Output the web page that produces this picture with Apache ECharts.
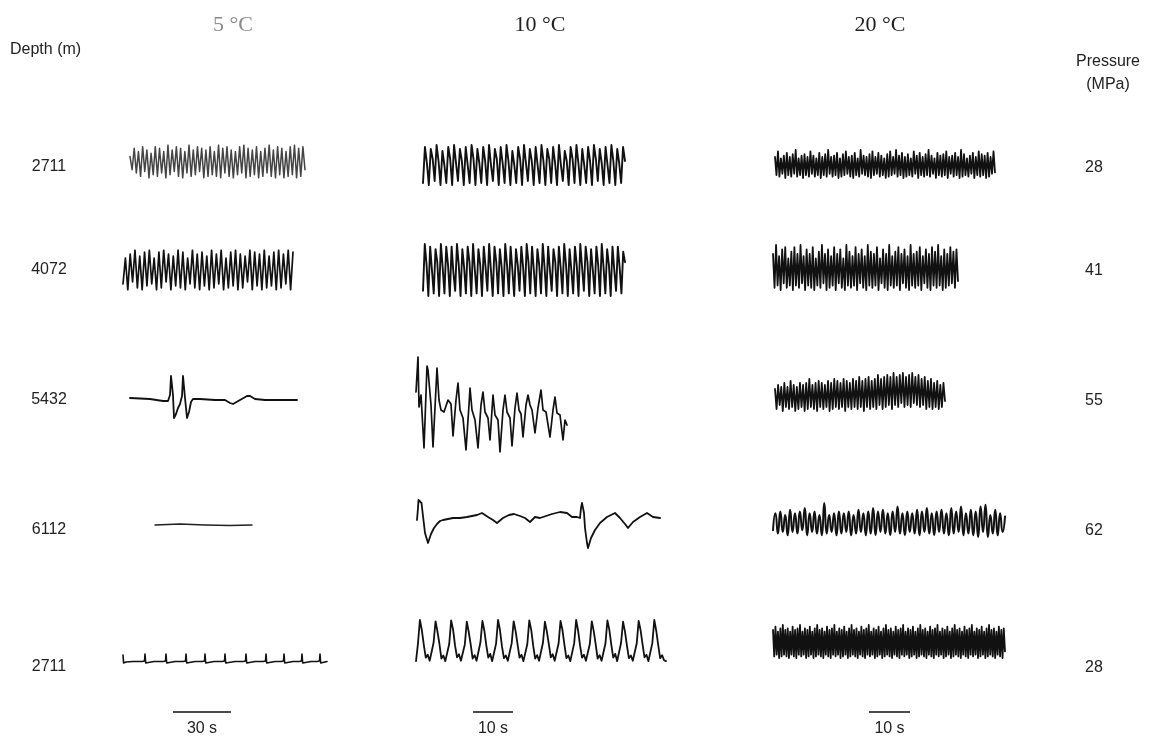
<!DOCTYPE html>
<html>
<head>
<meta charset="utf-8">
<script src="https://cdn.jsdelivr.net/npm/echarts@6/dist/echarts.min.js"></script>
<style>
html,body{margin:0;padding:0;background:#fff;}
#chart{width:1149px;height:756px;}
</style>
</head>
<body>
<div id="chart"></div>
<script>
// ---------- text ----------
const tempLabels = ['5 °C', '10 °C', '20 °C'];
const depthLabels = ['2711', '4072', '5432', '6112', '2711'];
const pressureLabels = ['28', '41', '55', '62', '28'];
const scaleBarSeconds = [30, 10, 10];
const scaleBarLabels = ['30 s', '10 s', '10 s'];

// ---------- traces (relative amplitude, evenly sampled) ----------
const c5_2711 = [0.3,-0.5,0.8,-0.7,0.6,-0.9,0.9,-0.6,0.7,-1.0,0.5,-0.8,0.9,-0.9,0.8,-0.7,0.6,-1.0,1.0,-0.8,0.7,-0.6,0.9,-0.9,0.8,-1.0,0.6,-0.7,1.0,-0.9,0.7,-0.8,0.9,-0.6,0.8,-1.0,0.7,-0.9,0.9,-0.8,0.6,-0.9,1.0,-1.0,0.8,-0.7,0.9,-0.9,0.7,-1.0,0.6,-0.8,0.9,-0.7,1.0,-1.0,0.8,-0.9,0.7,-0.8,0.9,-1.0,0.6,-0.9,0.8,-0.7,1.0,-0.9,0.7,-1.0,0.9,-0.8,0.8,-1.0,0.6,-0.9,0.9,-0.8,1.0,-1.0,0.8,-0.9,0.9,-0.5];
const c5_4072 = [-0.7,0.6,-1.0,0.8,-0.6,1.0,-0.9,0.7,-1.0,0.9,-0.8,1.0,-0.7,0.6,-1.0,0.9,-0.9,1.0,-0.6,0.8,-1.0,0.7,-0.8,1.0,-0.9,0.9,-1.0,0.6,-0.7,1.0,-0.9,0.8,-1.0,0.9,-0.8,0.7,-1.0,1.0,-0.9,0.8,-0.7,1.0,-1.0,0.6,-0.9,0.9,-0.8,1.0,-1.0,0.8,-0.9,0.7,-0.6,1.0,-1.0,0.9,-0.8,0.8,-1.0,1.0,-0.9,0.7,-0.8,0.9,-1.0,1.0,-0.9,0.8,-0.7,1.0,-1.0,0.9];
const c10_2711 = [-0.9,0.9,0.1,-1.0,0.8,0.3,-0.8,1.0,0.2,-1.0,0.7,0.0,-0.9,0.9,0.3,-1.0,1.0,0.1,-0.8,0.8,0.2,-1.0,0.9,0.0,-0.9,1.0,0.3,-1.0,0.8,0.1,-0.9,0.9,0.2,-1.0,1.0,0.0,-0.8,0.8,0.3,-1.0,0.9,0.1,-0.9,1.0,0.2,-1.0,0.7,0.0,-0.9,0.9,0.3,-1.0,1.0,0.1,-0.8,0.8,0.2,-1.0,0.9,0.0,-0.9,1.0,0.2,-1.0,0.8,0.3,-0.9,0.9,0.1,-1.0,1.0,0.0,-0.8,0.7,0.2,-1.0,0.9,0.3,-0.9,1.0,0.1,-1.0,0.8,0.0,-0.9,0.9,0.2,-1.0,1.0,0.3,-0.8,0.8,0.1,-1.0,0.9,0.0,-0.9,1.0,0.2,-1.0,0.8,0.1,-0.9,0.9,0.2];
const c10_4072 = [-0.8,1.0,0.2,-1.0,0.9,0.0,-0.9,0.8,0.3,-1.0,1.0,0.1,-0.9,0.9,0.2,-1.0,0.9,-0.1,-0.8,1.0,0.2,-1.0,0.8,0.1,-0.9,0.9,0.3,-1.0,1.0,0.0,-0.9,0.8,0.2,-1.0,0.9,0.1,-0.8,1.0,0.0,-1.0,0.9,0.3,-0.9,0.8,0.1,-1.0,1.0,0.2,-0.9,0.9,0.0,-1.0,0.8,0.2,-0.8,0.9,0.1,-1.0,1.0,0.3,-0.9,0.9,0.0,-1.0,0.8,0.2,-0.9,1.0,0.1,-1.0,0.9,0.0,-0.8,0.8,0.3,-1.0,0.9,0.1,-0.9,1.0,0.2,-1.0,0.8,0.0,-0.9,0.9,0.2,-1.0,1.0,0.1,-0.8,0.9,0.3,-1.0,0.8,0.0,-0.9,0.9,0.2,-1.0,1.0,0.1,-0.9,0.8,0.2,-1.0,0.9,0.0,-0.8,0.9,0.1,-0.9,0.7,0.3];
const c10_2711b = [0.04,0.45,1.0,0.76,0.42,0.12,0.19,0.05, 0.05,0.47,0.97,0.73,0.44,0.1,0.17,0.04, 0.04,0.44,0.99,0.77,0.4,0.13,0.2,0.05, 0.03,0.43,0.96,0.72,0.43,0.1,0.18,0.05, 0.05,0.48,0.98,0.75,0.41,0.12,0.21,0.04, 0.06,0.45,1.0,0.76,0.39,0.11,0.17,0.05, 0.04,0.46,0.97,0.74,0.43,0.12,0.19,0.04, 0.03,0.44,0.99,0.77,0.4,0.1,0.18,0.05, 0.05,0.47,0.96,0.73,0.44,0.13,0.2,0.05, 0.06,0.45,0.98,0.76,0.42,0.11,0.17,0.04, 0.04,0.46,1.0,0.75,0.4,0.12,0.19,0.05, 0.03,0.44,0.97,0.74,0.43,0.1,0.18,0.05, 0.05,0.45,0.99,0.77,0.42,0.12,0.21,0.04, 0.06,0.47,0.96,0.73,0.4,0.11,0.17,0.05, 0.04,0.45,0.98,0.76,0.43,0.13,0.19,0.04, 0.03,0.46,1.0,0.75,0.42,0.11,0.18,0.06, 0.04];
const c20_2711 = [0.5,-0.8,0.9,-0.9,0.4,-0.7,0.6,-1.0,0.8,-0.8,0.5,-0.9,0.7,-0.7,1.0,-0.9,0.4,-0.8,0.6,-1.0,0.7,-0.8,0.5,-0.9,0.9,-0.7,0.6,-0.9,0.4,-0.8,0.8,-1.0,0.5,-0.8,0.7,-0.9,1.0,-0.7,0.5,-0.9,0.6,-0.8,0.8,-1.0,0.4,-0.9,0.7,-0.8,0.9,-0.7,0.5,-0.9,0.6,-1.0,0.8,-0.8,0.4,-0.9,1.0,-0.7,0.6,-0.8,0.5,-0.9,0.7,-1.0,0.9,-0.8,0.5,-0.7,0.8,-0.9,0.6,-0.8,0.4,-1.0,0.7,-0.9,0.9,-0.8,0.5,-0.7,1.0,-0.9,0.6,-0.8,0.8,-1.0,0.5,-0.9,0.7,-0.8,0.4,-0.9,0.9,-0.7,0.6,-1.0,0.8,-0.8,0.5,-0.9,0.7,-0.8,1.0,-0.9,0.6,-0.7,0.4,-1.0,0.8,-0.8,0.6,-0.9,0.7,-0.8,0.9,-1.0,0.5,-0.7,0.6,-0.9,0.8,-0.8,0.5,-1.0,1.0,-0.9,0.7,-0.8,0.4,-0.9,0.6,-0.7,0.8,-1.0,0.5,-0.8,0.9,-0.9,0.7,-0.8,0.6,-1.0,0.8,-0.9,0.5,-0.7,0.9,-0.6];
const c20_4072 = [0.6,-0.9,1.0,-0.8,0.5,-1.0,0.8,-0.7,0.9,-0.9,0.4,-0.8,0.7,-1.0,0.9,-0.8,0.6,-0.9,1.0,-0.7,0.5,-1.0,0.8,-0.8,0.6,-0.9,0.9,-1.0,0.4,-0.8,0.7,-0.9,1.0,-0.7,0.6,-1.0,0.8,-0.9,0.5,-0.8,0.9,-1.0,0.6,-0.7,0.8,-0.9,0.4,-1.0,1.0,-0.8,0.7,-0.9,0.5,-0.8,0.9,-1.0,0.6,-0.7,0.8,-0.9,0.5,-1.0,1.0,-0.8,0.7,-0.9,0.6,-0.8,0.9,-1.0,0.4,-0.7,0.8,-0.9,0.6,-1.0,1.0,-0.8,0.5,-0.9,0.7,-0.8,0.9,-1.0,0.6,-0.7,0.8,-0.9,0.5,-1.0,1.0,-0.8,0.6,-0.9,0.7,-0.8,0.9,-1.0,0.5,-0.7,0.8,-0.9,0.6,-1.0,0.9,-0.8,0.7,-0.9,1.0,-0.8,0.5,-1.0,0.8,-0.9,0.6,-0.8,0.9,-0.7,0.7,-0.9,0.8,-0.6];
const c20_5432 = [0.2,-0.8,0.4,-0.6,0.3,-0.9,0.5,-0.7,0.3,-0.8,0.6,-0.7,0.4,-0.9,0.3,-0.8,0.5,-0.7,0.4,-0.9,0.5,-0.8,0.7,-0.7,0.4,-0.8,0.5,-0.9,0.6,-0.7,0.5,-0.8,0.4,-0.7,0.6,-0.9,0.5,-0.8,0.7,-0.7,0.6,-0.8,0.5,-0.7,0.7,-0.9,0.6,-0.7,0.5,-0.8,0.7,-0.7,0.6,-0.8,0.8,-0.7,0.6,-0.9,0.7,-0.7,0.8,-0.8,0.6,-0.7,0.7,-0.8,0.9,-0.6,0.7,-0.8,0.8,-0.7,0.9,-0.6,0.8,-0.8,1.0,-0.6,0.8,-0.7,0.9,-0.5,1.0,-0.7,0.8,-0.6,0.9,-0.7,1.0,-0.5,0.8,-0.6,0.9,-0.7,0.7,-0.6,0.8,-0.8,0.6,-0.7,0.7,-0.8,0.5,-0.7,0.6,-0.8,0.4,-0.7,0.5,-0.4];
const c20_6112 = [-0.6,0.4,-0.8,0.5,-0.7,0.3,-0.9,0.6,-0.7,0.4,-0.8,0.5,-0.6,0.7,-0.9,0.4,-0.7,0.5,-0.8,0.3,-0.9,1.0,-0.8,0.3,-0.7,0.4,-0.9,0.5,-0.8,0.4,-0.7,0.5,-0.9,0.3,-0.8,0.6,-0.7,0.4,-0.9,0.5,-0.8,0.7,-0.9,0.5,-0.7,0.6,-0.8,0.4,-0.9,0.5,-0.7,0.8,-0.8,0.4,-0.9,0.5,-0.7,0.4,-0.8,0.6,-0.9,0.5,-0.7,0.7,-0.8,0.4,-0.9,0.5,-0.7,0.6,-0.8,0.4,-0.9,0.7,-0.8,0.5,-0.7,0.8,-0.9,0.4,-0.8,0.6,-0.9,0.5,-1.0,0.8,-0.7,0.9,-1.0,0.3,-0.8,0.6,-0.9,0.4,-0.7,0.2];
const c20_2711b = [0.7,-0.9,0.9,-0.8,0.6,-1.0,0.8,-0.9,1.0,-0.8,0.7,-0.9,0.8,-1.0,0.6,-0.8,0.9,-0.9,0.7,-1.0,0.8,-0.8,1.0,-0.9,0.6,-0.8,0.8,-1.0,0.7,-0.9,0.9,-0.8,0.6,-1.0,0.8,-0.9,1.0,-0.8,0.7,-0.9,0.8,-1.0,0.6,-0.8,0.9,-0.9,0.7,-1.0,0.8,-0.8,1.0,-0.9,0.6,-0.8,0.8,-1.0,0.7,-0.9,0.9,-0.8,0.6,-1.0,0.8,-0.9,1.0,-0.8,0.7,-0.9,0.8,-1.0,0.6,-0.8,0.9,-0.9,0.7,-1.0,0.8,-0.8,1.0,-0.9,0.6,-0.8,0.8,-1.0,0.7,-0.9,0.9,-0.8,0.6,-1.0,0.8,-0.9,1.0,-0.8,0.7,-0.9,0.8,-1.0,0.6,-0.8,0.9,-0.9,0.7,-1.0,0.8,-0.8,1.0,-0.9,0.6,-0.8,0.8,-1.0,0.7,-0.9,0.9,-0.8,0.6,-1.0,0.8,-0.9,1.0,-0.8,0.7,-0.9,0.8,-1.0,0.6,-0.8,0.9,-0.9,0.7,-1.0,0.8,-0.8,1.0,-0.9,0.6,-0.8,0.8,-1.0,0.7,-0.9,0.9,-0.8,0.6,-1.0,0.8,-0.9,1.0,-0.8,0.7,-0.9,0.8,-1.0,0.6,-0.8,0.9,-0.9,0.7,-1.0,0.8,-0.8,1.0,-0.9,0.6,-0.8,0.8,-1.0,0.7,-0.9,0.9,-0.8,0.6,-1.0,0.8,-0.9,1.0,-0.8,0.7,-0.9,0.8,-1.0,0.6,-0.8,0.9,-0.9,0.7,-1.0,0.8,-0.6];

// ---------- traces given as [time, amplitude] pairs (irregular events) ----------
const c5_5432 = [[0,2],[20,1],[33,-1],[38,-1],[40,5],[41,24],[42.5,23],[43,5],[44,-18],[46,-14],[48,-8],[50,-4],[52,4],[53,24],[54.5,23],[55,2],[57,-18],[59,-12],[61,-2],[63,1],[70,1],[85,0],[95,0],[100,-3],[103,-4],[110,0],[117,4],[120,4],[125,1],[135,0],[150,0],[167,0]];
const c5_6112 = [[0,0],[25,0.2],[50,0],[75,-0.1],[97,0]];
const c5_2711b = [[0,7],[0.6,-1],[3,0],[10,0.5],[19,0.5],[21.5,1],[22,8],[22.7,-1],[24,0],[31,0.5],[40,0.5],[42.5,1],[43,8],[43.7,-1],[45,0],[52,0.5],[60,0.5],[62.5,1],[63,8],[63.7,-1],[65,0],[72,0.5],[79,0.5],[81.5,1],[82,8],[82.7,-1],[84,0],[91,0.5],[99,0.5],[101.5,1],[102,8],[102.7,-1],[104,0],[112,0.5],[120,0.5],[122.5,1],[123,8],[123.7,-1],[125,0],[132,0.5],[140,0.5],[142.5,1],[143,8],[143.7,-1],[145,0],[152,0.5],[158,0.5],[160.5,1],[161,8],[161.7,-1],[163,0],[170,0.5],[176,0.5],[178.5,1],[179,8],[179.7,-1],[181,0],[188,0.5],[194,0.5],[196.5,1],[197,8],[197.7,-1],[199,0],[204,0.5]];
const c10_5432 = [[1,18],[3,53],[4,3],[6,15],[7,17],[9,-38],[12,44],[13,40],[16,5],[18,-37],[22,42],[24,10],[26,0],[29,-2],[33,10],[36,6],[38,-26],[41,10],[43,27],[45,0],[48,-8],[51,-40],[54,5],[55,22],[57,0],[60,-10],[63,-38],[66,5],[68,18],[70,-2],[73,-8],[75,-30],[77,0],[78,15],[80,-5],[83,-10],[85,-42],[88,0],[90,15],[92,-2],[95,-8],[97,-36],[100,2],[102,17],[104,0],[106,-4],[108,-27],[111,5],[113,15],[115,5],[117,0],[120,-23],[123,2],[126,20],[128,0],[131,-2],[135,-27],[138,0],[140,13],[142,-3],[145,-5],[148,-30],[150,-10],[152,-15]];
const c10_6112 = [[0,-2],[1,10],[1.5,18],[3,17],[4.5,15],[6,2],[8,-15],[11,-25],[12,-24],[14,-16],[17,-10],[20,-6],[23,-3],[26,-2],[31,-1],[36,0],[43,0],[50,1],[60,3],[65,5],[71,1],[76,-2],[80,-5],[86,0],[92,3],[97,4],[103,2],[108,0],[113,-4],[118,1],[123,0],[129,2],[135,4],[143,6],[150,5],[155,1],[160,1],[163,0],[164,10],[165,15],[166,13],[167,5],[168,-10],[170,-25],[171,-30],[174,-20],[178,-12],[183,-5],[190,1],[198,5],[203,0],[208,-6],[211,-10],[216,-4],[223,1],[230,5],[236,1],[243,0]];

// ---------- layout (pixels) ----------
const traces = [
  {d: c5_2711,   left:130, top:145, w:175, h:33, yMin:-1, yMax:1, lw:1.5, color:'#444'},
  {d: c5_4072,   left:123, top:250, w:170, h:40, yMin:-1, yMax:1, lw:1.7, color:'#111'},
  {d: c5_5432,   left:130, top:374, w:167, h:46, yMin:-20, yMax:26, lw:1.8, color:'#111', pairs:true},
  {d: c5_6112,   left:155, top:520, w:97,  h:10, yMin:-1, yMax:1, lw:1.4, color:'#222', pairs:true},
  {d: c5_2711b,  left:123, top:652, w:204, h:13, yMin:-3, yMax:10, lw:1.6, color:'#111', pairs:true},
  {d: c10_2711,  left:423, top:145, w:202, h:40, yMin:-1, yMax:1, lw:1.9, color:'#111'},
  {d: c10_4072,  left:423, top:244, w:202, h:52, yMin:-1, yMax:1, lw:1.9, color:'#111'},
  {d: c10_5432,  left:415, top:355, w:152, h:98, yMin:-43, yMax:55, lw:1.7, color:'#111', pairs:true},
  {d: c10_6112,  left:417, top:498, w:243, h:52, yMin:-32, yMax:20, lw:1.8, color:'#111', pairs:true},
  {d: c10_2711b, left:416, top:620, w:250, h:45, yMin:-0.05, yMax:1, lw:1.8, color:'#111'},
  {d: c20_2711,  left:775, top:150, w:220, h:28, yMin:-1, yMax:1, lw:1.8, color:'#111'},
  {d: c20_4072,  left:773, top:245, w:185, h:45, yMin:-1, yMax:1, lw:1.8, color:'#111'},
  {d: c20_5432,  left:775, top:373, w:170, h:40, yMin:-1, yMax:1, lw:1.8, color:'#111'},
  {d: c20_6112,  left:773, top:503, w:232, h:34, yMin:-1, yMax:1, lw:2.0, color:'#111', smooth:0.6},
  {d: c20_2711b, left:773, top:625, w:232, h:33, yMin:-1, yMax:1, lw:1.8, color:'#111'}
];
const scaleBars = [
  {left:173, w:58}, {left:473, w:40}, {left:869, w:41}
];
const colCenters = [233, 540, 880];
const rowY = [167, 270, 400, 530, 667];

const grids = [], xAxes = [], yAxes = [], series = [];
traces.forEach((t, i) => {
  grids.push({left:t.left, top:t.top, width:t.w, height:t.h, containLabel:false});
  const data = t.pairs ? t.d : t.d.map((v, k) => [k, v]);
  const xMax = data[data.length - 1][0];
  xAxes.push({type:'value', gridIndex:i, min:0, max:xMax, show:false});
  yAxes.push({type:'value', gridIndex:i, min:t.yMin, max:t.yMax, show:false});
  series.push({type:'line', xAxisIndex:i, yAxisIndex:i, data:data, showSymbol:false, smooth:t.smooth || false,
    lineStyle:{color:t.color, width:t.lw, join:'round', cap:'round'}, silent:true});
});
scaleBars.forEach((b, j) => {
  const gi = grids.length;
  grids.push({left:b.left, top:710, width:b.w, height:4});
  xAxes.push({type:'value', gridIndex:gi, min:0, max:scaleBarSeconds[j], show:false});
  yAxes.push({type:'value', gridIndex:gi, min:-1, max:1, show:false});
  series.push({type:'line', xAxisIndex:gi, yAxisIndex:gi, data:[[0,0],[scaleBarSeconds[j],0]], showSymbol:false,
    lineStyle:{color:'#111', width:1.5}, silent:true});
});

const sans = '"Liberation Sans", Arial, Helvetica, sans-serif';
const serif = '"Liberation Serif", "Times New Roman", serif';
const graphics = [];
tempLabels.forEach((s, j) => {
  graphics.push({type:'text', x:colCenters[j], y:25, style:{text:s, font:'22px ' + serif, fill: j === 0 ? '#8a8a8a' : '#222', textAlign:'center', textVerticalAlign:'middle'}});
});
graphics.push({type:'text', x:10, y:50, style:{text:'Depth (m)', font:'16px ' + sans, fill:'#222', textAlign:'left', textVerticalAlign:'middle'}});
graphics.push({type:'text', x:1108, y:62, style:{text:'Pressure', font:'16px ' + sans, fill:'#222', textAlign:'center', textVerticalAlign:'middle'}});
graphics.push({type:'text', x:1108, y:85, style:{text:'(MPa)', font:'16px ' + sans, fill:'#222', textAlign:'center', textVerticalAlign:'middle'}});
depthLabels.forEach((s, r) => {
  graphics.push({type:'text', x:49, y:rowY[r], style:{text:s, font:'16px ' + sans, fill:'#222', textAlign:'center', textVerticalAlign:'middle'}});
});
pressureLabels.forEach((s, r) => {
  graphics.push({type:'text', x:1094, y:rowY[r] + 1, style:{text:s, font:'16px ' + sans, fill:'#222', textAlign:'center', textVerticalAlign:'middle'}});
});
scaleBars.forEach((b, j) => {
  graphics.push({type:'text', x:b.left + b.w / 2, y:729, style:{text:scaleBarLabels[j], font:'16px ' + sans, fill:'#222', textAlign:'center', textVerticalAlign:'middle'}});
});

const chart = echarts.init(document.getElementById('chart'), null, {renderer:'canvas'});
chart.setOption({
  animation:false,
  backgroundColor:'#ffffff',
  grid:grids, xAxis:xAxes, yAxis:yAxes, series:series,
  graphic:graphics
});
</script>
</body>
</html>
